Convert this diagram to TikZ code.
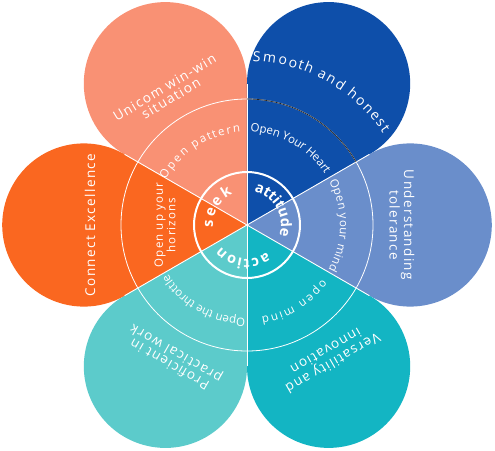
\documentclass[tikz,border=0pt]{standalone}
\usepackage{fontspec}
\setmainfont{Open Sans}
\newfontfamily\trackfont[LetterSpace=10]{Open Sans}
\usetikzlibrary{decorations.text}

\definecolor{petalsalmon}{HTML}{F99174}
\definecolor{petalnavy}{HTML}{0E4FAA}
\definecolor{petalsky}{HTML}{6A8ECB}
\definecolor{petalteal}{HTML}{13B5C3}
\definecolor{petalaqua}{HTML}{5CCBCB}
\definecolor{petalorange}{HTML}{FA6720}

\newcommand\hubtext{\bfseries\fontsize{14.5}{16}\selectfont}
\newcommand\ringtext{\fontsize{11.5}{13}\selectfont}
\newcommand\petaltext{\fontsize{14}{15}\selectfont}

\begin{document}
\begin{tikzpicture}[
  x=1pt, y=1pt,
  sep/.style={white, line width=0.9pt},
  ring/.style={white, line width=0.8pt},
  big/.style={text=white, align=center, inner sep=0pt,
    font=\trackfont\fontsize{13.5}{12.5}\selectfont},
  along/.style 2 args={decorate, decoration={text effects along path, text={#2},
    text effects/.cd, text along path, fit text to path,
    characters={text=white, font=#1}, character widths={font=#1}}}
]
\useasboundingbox (-247,-225) rectangle (248,225);
\coordinate (c) at (0,0);
% petals
\foreach \a/\col in {120/petalsalmon, 60/petalnavy, 0/petalsky,
    -60/petalteal, -120/petalaqua, 180/petalorange}
  \fill[\col] (c) -- (\a-30:141.3)
    arc[start angle=\a-120, end angle=\a+120, radius=81.6pt] -- cycle;
\foreach \a in {30,90,...,330}
  \draw[sep] (c) -- (\a:141.3);
% rings
\draw[ring] (c) circle[radius=126pt];
\draw[black!85, line width=0.7pt] (90:126) arc[start angle=90, end angle=30, radius=126pt];
\draw[white, line width=2pt] (c) circle[radius=53pt];

% inner ring
\path[along={\hubtext}{attitude}]
  (78:34) arc[start angle=78, end angle=-18, radius=34pt];
\path[along={\hubtext}{seek}]
  (184:34) arc[start angle=184, end angle=115, radius=34pt];
\path[along={\hubtext}{action}]
  (-54:34) arc[start angle=-54, end angle=-140, radius=34pt];

% middle ring
\path[along={\ringtext}{Open pattern}]
  (151:93) arc[start angle=151, end angle=94, radius=93pt];
\path[along={\ringtext}{Open Your Heart}]
  (88:93) arc[start angle=88, end angle=33, radius=93pt];
\path[along={\ringtext}{Open your mind}]
  (28:93) arc[start angle=28, end angle=-29, radius=93pt];
\path[along={\ringtext}{open mind}]
  (-36:93) arc[start angle=-36, end angle=-81, radius=93pt];
\path[along={\ringtext}{Open the throttle}]
  (-91:93) arc[start angle=-91, end angle=-148, radius=93pt];
\node[big, font=\trackfont\fontsize{11.5}{12.5}\selectfont, rotate=90] (horizons)
  at (-82,0) {Open up your\\horizons};

% outer petals
\path[along={\petaltext}{Smooth and honest}]
  (88:164) arc[start angle=88, end angle=34, radius=164pt];
\node[big, rotate=31] (unicom) at (121:154) {Unicom win-win\\situation};
\node[big, rotate=-90] (understanding) at (155,0) {Understanding\\tolerance};
\node[big, rotate=210] (versatility) at (-58:156) {Versatility and\\innovation};
\node[big, rotate=150] (proficient) at (-119:152) {Proficient in\\practical work};
\node[big, rotate=90] (connect) at (-157,0) {Connect Excellence};
\end{tikzpicture}
\end{document}
